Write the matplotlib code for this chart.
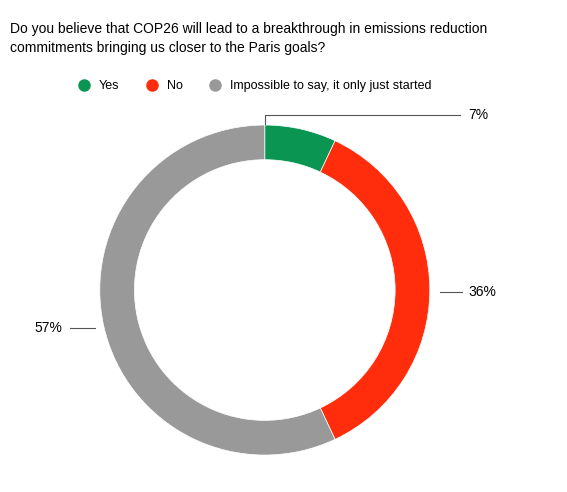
import matplotlib.pyplot as plt
from matplotlib.lines import Line2D

labels = ["Yes", "No", "Impossible to say, it only just started"]
values = [7, 36, 57]
colors = ["#0b9553", "#ff2d0b", "#999999"]

fig = plt.figure(figsize=(5.67, 4.92), dpi=100)
fig.patch.set_facecolor("white")

# donut centred near (265, 290) px, outer radius ~165 px
ax = fig.add_axes([0.176, 0.075, 0.582, 0.671])
ax.pie(values, colors=colors, startangle=90, counterclock=False,
       wedgeprops=dict(width=0.21, edgecolor="white", linewidth=0.5))
ax.set_aspect("equal")
ax.set_xlim(-1, 1)
ax.set_ylim(-1, 1)

fig.text(0.018, 0.955, "Do you believe that COP26 will lead to a breakthrough in emissions reduction\n"
         "commitments bringing us closer to the Paris goals?",
         fontsize=10, ha="left", va="top", linespacing=1.45, family="Liberation Sans")

# legend
handles = [Line2D([], [], marker="o", linestyle="", color=c, markersize=8) for c in colors]
fig.legend(handles, labels, loc="center left", bbox_to_anchor=(0.106, 0.825), ncol=3,
           frameon=False, handletextpad=0.2, columnspacing=1.6,
           prop=dict(family="Liberation Sans", size=9))

# percent labels with leader lines (figure pixel coords)
def px(x, y):
    return x / 567, 1 - y / 492

lab_txt = [f"{v}%" for v in values]
fig.add_artist(Line2D(*zip(px(265, 124), px(265, 115), px(460, 115)), color="#555555", lw=0.8))
fig.text(*px(468, 115), lab_txt[0], fontsize=10, va="center", family="Liberation Sans")
fig.add_artist(Line2D(*zip(px(440, 292), px(462, 292)), color="#555555", lw=0.8))
fig.text(*px(468, 292), lab_txt[1], fontsize=10, va="center", family="Liberation Sans")
fig.add_artist(Line2D(*zip(px(70, 328), px(95, 328)), color="#555555", lw=0.8))
fig.text(*px(62, 328), lab_txt[2], fontsize=10, va="center", ha="right", family="Liberation Sans")

fig.savefig("out.png", dpi=100)
